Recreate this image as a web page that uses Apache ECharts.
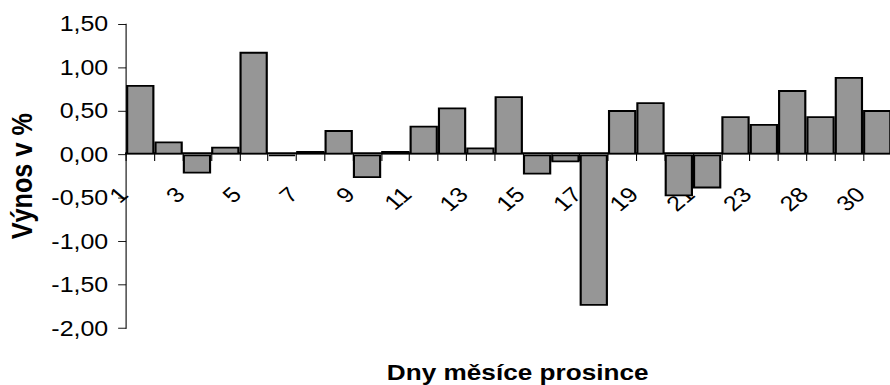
<!DOCTYPE html>
<html>
<head>
<meta charset="utf-8">
<script src="https://cdn.jsdelivr.net/npm/echarts@6/dist/echarts.min.js"></script>
<style>
  html, body { margin: 0; padding: 0; background: #ffffff; overflow: hidden; }
  #wrap { width: 890px; height: 385px; overflow: hidden; }
  /* the chart is laid out narrower and widened; the page clips its right edge */
  #chart {
    width: 760px; height: 385px;
    transform: translateX(-3px) scale(1.18984, 1.009);
    transform-origin: 0 24px;
  }
</style>
</head>
<body>
<div id="wrap"><div id="chart"></div></div>
<script>
// Trading days of December
const days = ['1', '2', '3', '4', '5', '6', '7', '8', '9', '10', '11', '12', '13', '14',
  '15', '16', '17', '18', '19', '20', '21', '22', '23', '27', '28', '29', '30'];

// Daily return in %
const returns = [0.80, 0.15, -0.22, 0.09, 1.18, -0.02, 0.04, 0.28, -0.27, 0.04, 0.33, 0.54, 0.08, 0.67,
  -0.23, -0.09, -1.74, 0.51, 0.60, -0.48, -0.39, 0.44, 0.35, 0.74, 0.44, 0.89, 0.51];

// Value axis range and step
const yMin = -2.0;
const yMax = 1.5;
const yStep = 0.5;

const FONT = '"Liberation Sans", Arial, sans-serif';

// plot area
const plotTop = 24;
const plotHeight = 304;
// the category axis sits on the zero line of the value axis
const zeroOffset = -plotHeight * (0 - yMin) / (yMax - yMin);

const chart = echarts.init(document.getElementById('chart'), null, { renderer: 'svg' });

chart.setOption({
  animation: false,
  backgroundColor: '#ffffff',
  grid: {
    left: 105,
    top: plotTop,
    width: 646.7,
    height: plotHeight,
    containLabel: false
  },
  xAxis: {
    type: 'category',
    data: days,
    boundaryGap: true,
    offset: zeroOffset,
    name: 'Dny měsíce prosince',
    nameLocation: 'middle',
    nameGap: 206,
    nameTextStyle: {
      fontFamily: FONT,
      fontSize: 22,
      fontWeight: 'bold',
      color: '#000',
      padding: [0, 0, 0, 15]
    },
    axisLine: { show: true, onZero: false, lineStyle: { color: '#000', width: 2 } },
    axisTick: { show: true, inside: false, length: 7.7, interval: 0, lineStyle: { color: '#000', width: 0.9 } },
    axisLabel: {
      interval: 1,
      rotate: 45,
      margin: 23,
      padding: [0, 20, 0, 0],
      fontFamily: FONT,
      fontSize: 21,
      color: '#000'
    },
    splitLine: { show: false }
  },
  yAxis: {
    type: 'value',
    min: yMin,
    max: yMax,
    interval: yStep,
    name: 'Výnos v %',
    nameLocation: 'middle',
    nameGap: 75.5,
    nameRotate: 90,
    nameTextStyle: {
      fontFamily: FONT,
      fontSize: 25,
      fontWeight: 'bold',
      color: '#000'
    },
    axisLine: { show: true, lineStyle: { color: '#000', width: 0.9 } },
    axisTick: { show: true, inside: false, length: 6.7, lineStyle: { color: '#000', width: 0.9 } },
    axisLabel: {
      margin: 15,
      fontFamily: FONT,
      fontSize: 21,
      color: '#000',
      formatter: function (v) { return v.toFixed(2).replace('.', ','); }
    },
    splitLine: { show: false }
  },
  series: [{
    type: 'bar',
    data: returns,
    barCategoryGap: '0%',
    itemStyle: {
      color: '#969696',
      borderColor: '#000',
      borderWidth: 1.8
    }
  }]
});
</script>
</body>
</html>
